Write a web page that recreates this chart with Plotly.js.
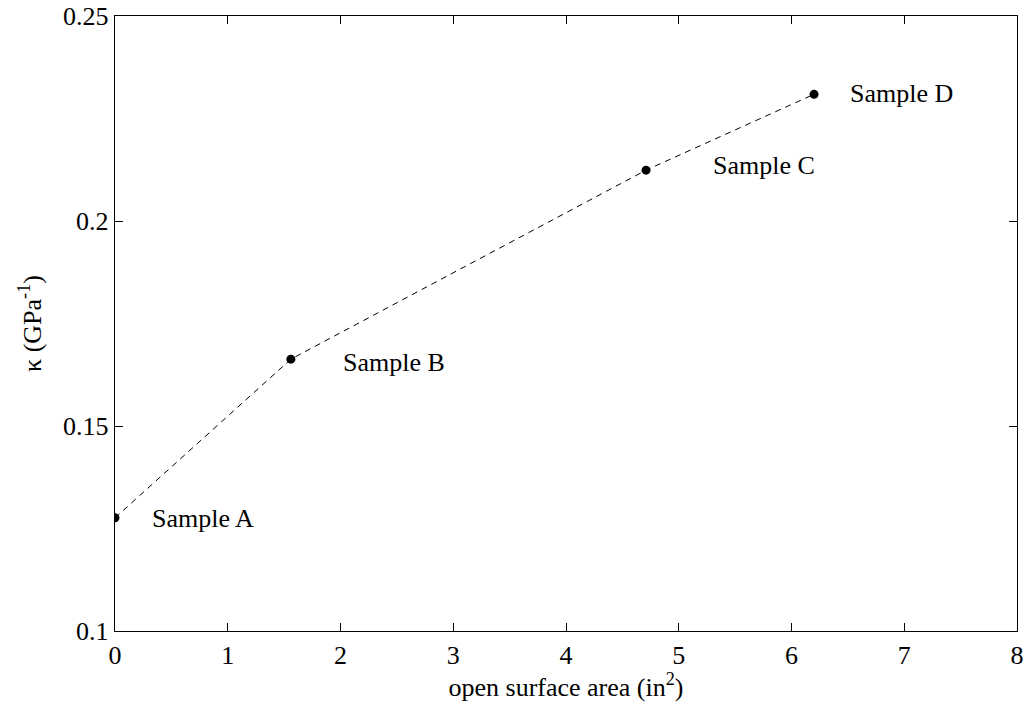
<!DOCTYPE html>
<html>
<head>
<meta charset="utf-8">
<script src="https://cdn.plot.ly/plotly-3.0.1.min.js"></script>
<style>html,body{margin:0;padding:0;background:#fff;}#chart{width:1027px;height:713px;}</style>
</head>
<body>
<div id="chart"></div>
<script>
const areaX = [0, 1.56, 4.71, 6.20];
const kappaY = [0.1276, 0.1663, 0.2124, 0.2309];
const sampleNames = ["Sample A", "Sample B", "Sample C", "Sample D"];
const labelX = [0.31, 2.0, 5.29, 6.5];
const labelY = [0.1274, 0.1655, 0.2136, 0.2311];
const xTicks = [0, 1, 2, 3, 4, 5, 6, 7, 8];
const yTicks = [0.1, 0.15, 0.2, 0.25];
const yTickText = ["0.1", "0.15", "0.2", "0.25"];

const font = {family: "Liberation Serif, Times New Roman, serif", size: 26, color: "#000"};

const trace = {
  x: areaX, y: kappaY, type: "scatter", mode: "lines+markers",
  line: {color: "#000", width: 1, dash: "6px,5px"},
  marker: {color: "#000", size: 9},
  hoverinfo: "none", showlegend: false
};

const annotations = sampleNames.map((t, i) => ({
  x: labelX[i], y: labelY[i], xref: "x", yref: "y", text: t,
  showarrow: false, xanchor: "left", yanchor: "middle", font: font
}));

const axisCommon = {
  showgrid: false, zeroline: false, showline: true, linecolor: "#000", linewidth: 1.3,
  mirror: "ticks", ticks: "inside", ticklen: 8, tickcolor: "#000", tickwidth: 1,
  tickfont: font
};

const layout = {
  width: 1027, height: 713,
  margin: {l: 115, r: 10, t: 16, b: 82},
  paper_bgcolor: "#fff", plot_bgcolor: "#fff",
  font: font,
  xaxis: Object.assign({}, axisCommon, {
    range: [0, 8], tickvals: xTicks, ticktext: xTicks.map(String),
    title: {text: "open surface area (in<sup>2</sup>)", font: font, standoff: 2}
  }),
  yaxis: Object.assign({}, axisCommon, {
    range: [0.1, 0.25], tickvals: yTicks, ticktext: yTickText,
    title: {text: "κ (GPa<sup>-1</sup>)", font: font, standoff: 14}
  }),
  annotations: annotations
};

Plotly.newPlot("chart", [trace], layout, {displayModeBar: false, staticPlot: true});
</script>
</body>
</html>
